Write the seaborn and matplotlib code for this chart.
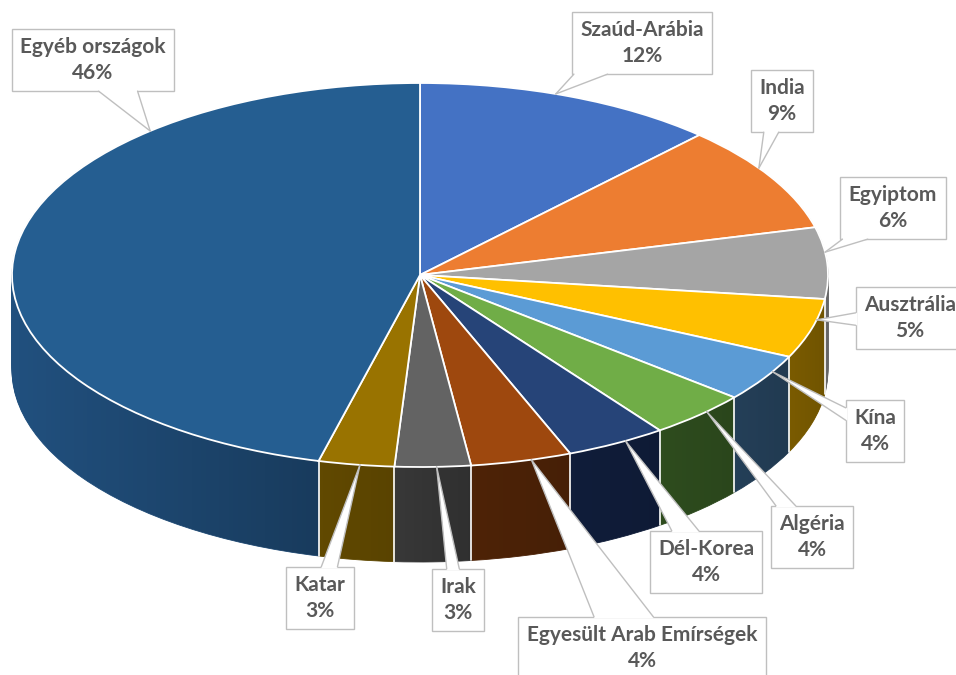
import numpy as np
import matplotlib
matplotlib.use("Agg")
import matplotlib.pyplot as plt
from matplotlib.patches import Polygon
from matplotlib.lines import Line2D
from matplotlib.transforms import IdentityTransform
import seaborn as sns

# ---------------- data ----------------
categories = ["Szaúd-Arábia", "India", "Egyiptom", "Ausztrália", "Kína", "Algéria",
              "Dél-Korea", "Egyesült Arab Emírségek", "Irak", "Katar", "Egyéb országok"]
values = [12, 9, 6, 5, 4, 4, 4, 4, 3, 3, 46]
pct_labels = ["12%", "9%", "6%", "5%", "4%", "4%", "4%", "4%", "3%", "3%", "46%"]

top_colors = ["#4472C4", "#ED7D31", "#A5A5A5", "#FFC000", "#5B9BD5", "#70AD47",
              "#264478", "#9E480E", "#636363", "#997300", "#255E91"]
side_colors = ["#2a4a80", "#9a4f1c", "#6b6b6b", "#7a5b00", "#243f58", "#2e4c1e",
               "#101d3a", "#4e2307", "#383838", "#614900", "#21507e"]
side_shade = [0.08, 0.08, 0.08, 0.08, 0.08, 0.08, 0.08, 0.1, 0.15, 0.08, 0.26]

# ---------------- layout (pixels) ----------------
W, H = 956, 675
cx_px, cy_px = 420, 275          # ellipse centre
rx_px, ry_px = 408, 192          # ellipse radii
depth_px = 95                    # thickness of the 3D side
label_pos_px = [(642, 43), (782, 101), (893, 208), (910, 318), (875, 431), (812, 537),
                (706, 562), (642, 648), (458, 600), (320, 598), (93, 60)]
anchor_frac = [0.45, 0.4, 0.35, 0.35, 0.35, 0.4, 0.4, 0.4, 0.45, 0.45, 0.75]

sns.set_theme(style="white")
plt.rcParams["font.family"] = ["Lato", "DejaVu Sans"]

fig = plt.figure(figsize=(W / 100, H / 100), dpi=100)
ax = fig.add_axes([0, 0, 1, 1])

depth = depth_px / ry_px
total = sum(values)
cum = np.concatenate([[0], np.cumsum(values)]) / total

# side (extruded layers)
for d in np.linspace(depth, 0.002, 70):
    ax.pie(values, colors=side_colors, startangle=90, counterclock=False,
           center=(0, -d), radius=1, wedgeprops=dict(linewidth=0.6))
    for w, c in zip(ax.patches[-len(values):], side_colors):
        w.set_edgecolor(c)
        w.set_zorder(1)

# horizontal shading on each visible side segment
for i in range(len(values)):
    a1 = np.deg2rad(90 - 360 * cum[i + 1])
    a2 = np.deg2rad(90 - 360 * cum[i])
    t = np.linspace(a1, a2, 200)
    t = t[np.sin(t) <= 0.0]
    if len(t) < 2:
        continue
    xs = np.cos(t)
    ys = np.sin(t)
    poly_xy = np.vstack([np.column_stack([xs, ys]),
                         np.column_stack([xs[::-1], ys[::-1] - depth])])
    clip = Polygon(poly_xy, closed=True, transform=ax.transData)
    x0, x1 = xs.min(), xs.max()
    grad = np.zeros((2, 64, 4))
    grad[..., 3] = np.linspace(0, side_shade[i], 64)[None, :]
    im = ax.imshow(grad, extent=[x0, x1, ys.min() - depth, ys.max()],
                   aspect="auto", interpolation="bilinear", zorder=2)
    im.set_clip_path(clip)

# white vertical separators on the visible side
for f in cum[1:-1]:
    phi = np.deg2rad(90 - 360 * f)
    if np.sin(phi) < 0:
        ax.plot([np.cos(phi), np.cos(phi)], [np.sin(phi), np.sin(phi) - depth],
                color="white", lw=1.2, zorder=3)

# top face
ax.pie(values, colors=top_colors, startangle=90, counterclock=False,
       center=(0, 0), radius=1,
       wedgeprops=dict(linewidth=1.3, edgecolor="white"))
for w in ax.patches[-len(values):]:
    w.set_zorder(4)

ax.set_aspect("auto")
ax.set_xlim((0 - cx_px) / rx_px, (W - cx_px) / rx_px)
ax.set_ylim(-(H - cy_px) / ry_px, cy_px / ry_px)
ax.axis("off")

# labels
texts = []
apexes = []
for i, (lab, pct) in enumerate(zip(categories, pct_labels)):
    f = cum[i] + anchor_frac[i] * (cum[i + 1] - cum[i])
    phi = np.deg2rad(90 - 360 * f)
    apexes.append((np.cos(phi), np.sin(phi)))
    px, py = label_pos_px[i]
    t = ax.text(px, H - py, f"{lab}\n{pct}", transform=IdentityTransform(),
                ha="center", va="center", multialignment="center",
                fontsize=15, fontweight="bold", color="#595959", linespacing=1.35,
                bbox=dict(boxstyle="square,pad=0.4", fc="white", ec="#bfbfbf", lw=1),
                zorder=6, clip_on=False)
    texts.append(t)

# callout pointers
fig.canvas.draw()
renderer = fig.canvas.get_renderer()
for t, ap in zip(texts, apexes):
    bb = t.get_bbox_patch().get_window_extent(renderer)
    x0, y0, x1, y1 = bb.x0, bb.y0, bb.x1, bb.y1
    cx, cy = (x0 + x1) / 2, (y0 + y1) / 2
    A = ax.transData.transform(ap)
    dx, dy = A[0] - cx, A[1] - cy
    tx = (bb.width / 2) / abs(dx) if dx != 0 else np.inf
    ty = (bb.height / 2) / abs(dy) if dy != 0 else np.inf
    if ty <= tx:   # top / bottom edge
        ey = y0 if dy < 0 else y1
        hw = 0.12 * bb.width
        px = np.clip(cx + dx * ty, x0 + hw + 2, x1 - hw - 2)
        b1, b2 = (px - hw, ey), (px + hw, ey)
        inset = (0, 1.5 if dy < 0 else -1.5)
    else:          # left / right edge
        ex = x0 if dx < 0 else x1
        hw = 0.1 * bb.height
        py = np.clip(cy + dy * tx, y0 + hw + 2, y1 - hw - 2)
        b1, b2 = (ex, py - hw), (ex, py + hw)
        inset = (1.5 if dx < 0 else -1.5, 0)
    tri = Polygon([(b1[0] + inset[0], b1[1] + inset[1]), b1, tuple(A), b2,
                   (b2[0] + inset[0], b2[1] + inset[1])],
                  closed=True, fc="white", ec="none", transform=IdentityTransform(),
                  zorder=10)
    fig.add_artist(tri)
    for b in (b1, b2):
        fig.add_artist(Line2D([b[0], A[0]], [b[1], A[1]], color="#bfbfbf", lw=1,
                              transform=IdentityTransform(), zorder=11))

fig.savefig("out.png", dpi=100)
